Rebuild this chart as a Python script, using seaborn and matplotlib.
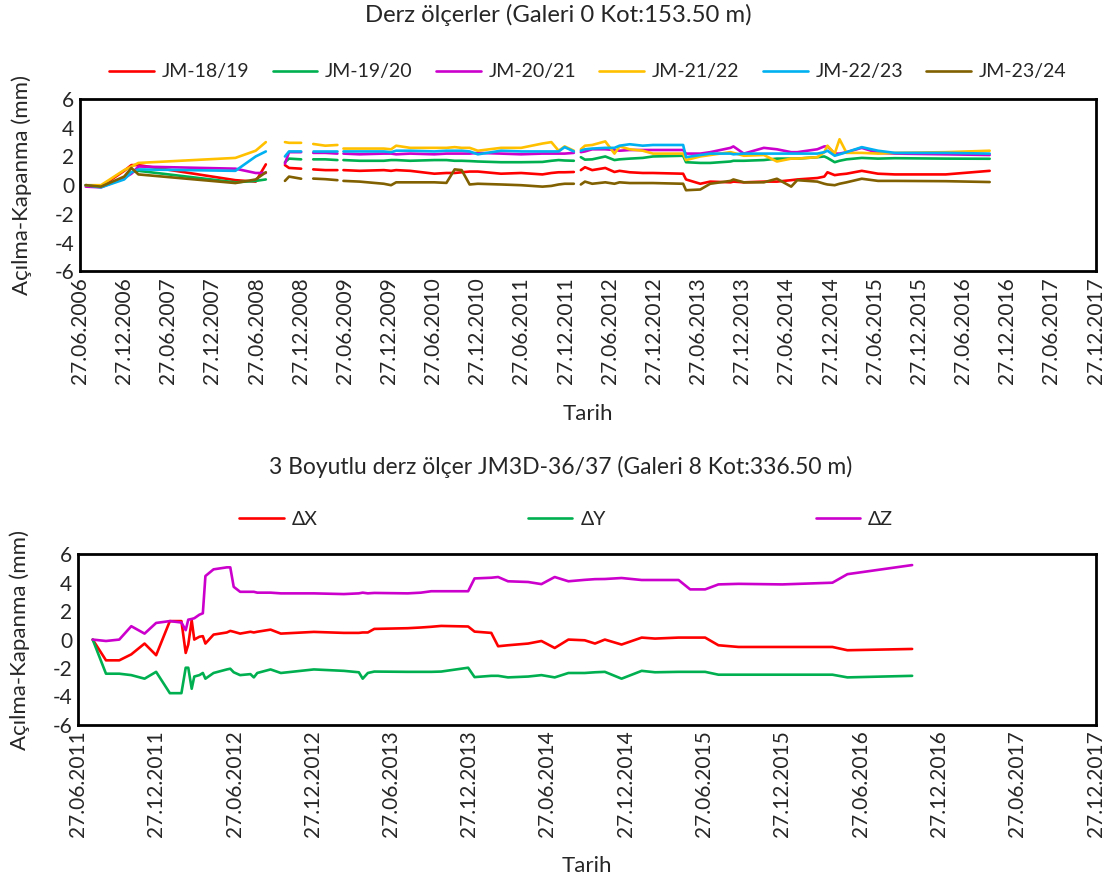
import numpy as np
import pandas as pd
import matplotlib
matplotlib.use("Agg")
import matplotlib.pyplot as plt
import seaborn as sns

# ---- top chart: joint meters, gallery 0 (nan rows = gaps in the record)
nan = np.nan
top_dates = ["2006-07-21", "2006-09-22", "2006-12-27", "2007-01-26", "2007-02-24", "2008-03-31",
             "2008-06-23", "2008-08-04", "2008-09-15", "2008-10-22", "2008-11-08", "2008-12-28",
             "2009-01-20", "2009-02-16", "2009-04-07", "2009-05-27", "2009-06-08", "2009-06-21",
             "2009-08-27", "2009-12-05", "2010-01-04", "2010-01-25", "2010-03-24", "2010-07-02",
             "2010-08-21", "2010-09-24", "2010-10-23", "2010-11-25", "2010-12-29", "2011-04-04",
             "2011-06-26", "2011-09-22", "2011-10-29", "2011-11-28", "2011-12-23", "2012-01-30",
             "2012-02-12", "2012-02-28", "2012-03-16", "2012-04-15", "2012-06-08", "2012-07-16",
             "2012-08-06", "2012-09-17", "2012-11-10", "2012-12-22", "2013-04-26", "2013-05-08",
             "2013-07-06", "2013-08-16", "2013-11-08", "2013-11-20", "2014-01-02", "2014-03-26",
             "2014-05-19", "2014-07-17", "2014-08-11", "2014-11-02", "2014-12-01", "2014-12-14",
             "2015-01-13", "2015-02-02", "2015-03-03", "2015-05-05", "2015-07-11", "2015-09-19",
             "2016-04-16", "2016-10-15"]

jm_18_19 = [0.0, -0.1, 1.0, 1.4, 1.4, 0.35, 0.25, 1.45, nan, 1.4, 1.2, 1.15, nan, 1.1, 1.05, 1.05,
            nan, 1.05, 1.0, 1.05, 1.0, 1.05, 1.0, 0.8, 0.85, 0.85, 0.9, 0.95, 0.95, 0.8, 0.85, 0.75,
            0.85, 0.9, 0.9, 0.92, nan, 1.05, 1.25, 1.05, 1.2, 0.92, 1.0, 0.9, 0.85, 0.85, 0.8, 0.4,
            0.1, 0.25, 0.2, 0.25, 0.2, 0.25, 0.25, 0.35, 0.4, 0.5, 0.6, 0.9, 0.7, 0.75, 0.8, 1.0,
            0.8, 0.75, 0.75, 1.0]
jm_19_20 = [0.0, -0.1, 0.5, 0.9, 1.0, 0.2, 0.3, 0.4, nan, 1.6, 1.85, 1.8, nan, 1.8, 1.8, 1.75,
            nan, 1.75, 1.7, 1.7, 1.75, 1.75, 1.7, 1.75, 1.75, 1.7, 1.7, 1.68, 1.65, 1.6, 1.6, 1.62,
            1.7, 1.75, 1.72, 1.7, nan, 1.95, 1.78, 1.8, 2.0, 1.75, 1.8, 1.85, 1.9, 2.0, 2.05, 1.6,
            1.55, 1.55, 1.65, 1.7, 1.7, 1.75, 1.85, 1.85, 1.85, 1.95, 2.0, 1.9, 1.6, 1.7, 1.8, 1.9,
            1.85, 1.88, 1.85, 1.84]
jm_20_21 = [-0.1, -0.15, 0.5, 0.8, 1.3, 1.15, 0.85, 0.85, nan, 1.5, 2.3, 2.3, nan, 2.25, 2.25, 2.2,
            nan, 2.2, 2.15, 2.2, 2.2, 2.15, 2.2, 2.15, 2.2, 2.2, 2.2, 2.2, 2.25, 2.2, 2.15, 2.2,
            2.2, 2.2, 2.2, 2.25, nan, 2.3, 2.35, 2.5, 2.5, 2.45, 2.4, 2.45, 2.45, 2.45, 2.45, 2.2,
            2.2, 2.3, 2.6, 2.7, 2.2, 2.6, 2.5, 2.3, 2.3, 2.5, 2.7, 2.7, 2.2, 2.2, 2.3, 2.6,
            2.25, 2.2, 2.15, 2.1]
jm_21_22 = [0.0, 0.0, 1.05, 1.3, 1.55, 1.9, 2.4, 3.0, nan, 3.0, 2.95, 2.95, nan, 2.87, 2.75, 2.8,
            nan, 2.55, 2.55, 2.55, 2.5, 2.75, 2.6, 2.6, 2.6, 2.65, 2.6, 2.6, 2.4, 2.6, 2.6, 2.9,
            3.0, 2.4, 2.7, 2.4, nan, 2.5, 2.75, 2.8, 3.05, 2.2, 2.7, 2.5, 2.4, 2.2, 2.2, 1.75,
            2.0, 2.1, 2.3, 2.25, 2.05, 2.1, 1.65, 1.85, 1.85, 1.95, 2.3, 2.75, 2.2, 3.2, 2.25, 2.25,
            2.2, 2.25, 2.3, 2.4]
jm_22_23 = [0.0, -0.15, 0.4, 0.9, 1.1, 1.0, 2.0, 2.35, nan, 2.0, 2.35, 2.35, nan, 2.35, 2.35, 2.35,
            nan, 2.35, 2.35, 2.35, 2.3, 2.4, 2.4, 2.35, 2.4, 2.4, 2.4, 2.35, 2.15, 2.4, 2.35, 2.35,
            2.35, 2.35, 2.65, 2.35, nan, 2.4, 2.5, 2.55, 2.6, 2.6, 2.75, 2.85, 2.75, 2.8, 2.8, 1.95,
            2.1, 2.2, 2.2, 2.15, 2.2, 2.2, 2.2, 2.2, 2.2, 2.2, 2.3, 2.4, 2.05, 2.15, 2.3, 2.65,
            2.4, 2.25, 2.25, 2.2]
jm_23_24 = [0.0, -0.1, 0.6, 1.2, 0.75, 0.15, 0.4, 0.9, nan, 0.3, 0.6, 0.45, nan, 0.46, 0.42, 0.35,
            nan, 0.3, 0.25, 0.1, 0.0, 0.2, 0.2, 0.2, 0.16, 1.1, 1.05, 0.05, 0.1, 0.05, 0.0, -0.1,
            -0.05, 0.05, 0.1, 0.1, nan, 0.05, 0.25, 0.1, 0.2, 0.1, 0.2, 0.15, 0.15, 0.15, 0.1, -0.35,
            -0.3, 0.1, 0.3, 0.4, 0.2, 0.2, 0.45, -0.1, 0.35, 0.25, 0.1, 0.05, 0.0, 0.1, 0.2, 0.45,
            0.3, 0.3, 0.28, 0.22]

top_names = ["JM-18/19", "JM-19/20", "JM-20/21", "JM-21/22", "JM-22/23", "JM-23/24"]
top_colors = ["#FF0000", "#00B050", "#CC00CC", "#FFC000", "#00B0F0", "#806000"]

# ---- bottom chart: 3D joint meter JM3D-36/37
delta_dates = ["2011-08-01", "2011-09-01", "2011-10-02", "2011-10-30", "2011-11-30", "2011-12-27",
               "2012-01-28", "2012-02-24", "2012-03-05", "2012-03-11", "2012-03-19", "2012-03-25",
               "2012-04-06", "2012-04-14", "2012-04-20", "2012-05-09", "2012-06-09", "2012-06-17",
               "2012-06-25", "2012-07-10", "2012-08-03", "2012-08-11", "2012-08-19", "2012-09-19",
               "2012-10-13", "2012-12-29", "2013-03-09", "2013-04-13", "2013-04-22", "2013-05-04",
               "2013-05-19", "2013-08-05", "2013-09-05", "2013-09-29", "2013-10-22", "2013-12-24",
               "2014-01-08", "2014-02-16", "2014-03-04", "2014-03-27", "2014-05-13", "2014-06-13",
               "2014-07-14", "2014-08-15", "2014-09-22", "2014-10-16", "2014-11-08", "2014-12-17",
               "2015-02-02", "2015-03-05", "2015-04-29", "2015-05-26", "2015-06-30", "2015-07-31",
               "2015-09-16", "2015-12-27", "2016-04-22", "2016-05-27", "2016-10-25"]
delta_x = [0.0, -1.46, -1.46, -1.04, -0.28, -1.1, 1.3, 1.3, -0.94, -0.35, 1.36, 0.0, 0.2, 0.24,
           -0.28, 0.35, 0.5, 0.61, 0.55, 0.42, 0.55, 0.5, 0.55, 0.7, 0.42, 0.54, 0.47, 0.47, 0.5,
           0.5, 0.75, 0.8, 0.85, 0.9, 0.96, 0.92, 0.56, 0.47, -0.47, -0.4, -0.28, -0.1, -0.59, 0.0,
           -0.05, -0.28, 0.0, -0.35, 0.14, 0.07, 0.14, 0.14, 0.14, -0.4, -0.52, -0.52, -0.52, -0.75,
           -0.66]
delta_y = [0.0, -2.4, -2.4, -2.5, -2.75, -2.27, -3.77, -3.77, -1.98, -1.98, -3.46, -2.6, -2.5,
           -2.35, -2.75, -2.35, -2.1, -2.05, -2.3, -2.5, -2.43, -2.66, -2.35, -2.1, -2.35, -2.1,
           -2.2, -2.3, -2.75, -2.35, -2.25, -2.27, -2.27, -2.27, -2.25, -1.98, -2.64, -2.55, -2.55,
           -2.66, -2.6, -2.5, -2.66, -2.35, -2.35, -2.3, -2.27, -2.75, -2.2, -2.3, -2.27, -2.27,
           -2.27, -2.47, -2.47, -2.47, -2.47, -2.66, -2.55]
delta_z = [0.0, -0.1, 0.0, 0.94, 0.42, 1.17, 1.3, 1.2, 0.66, 1.4, 1.45, 1.5, 1.75, 1.85, 4.47,
           4.94, 5.08, 5.08, 3.71, 3.36, 3.36, 3.36, 3.3, 3.3, 3.25, 3.25, 3.2, 3.25, 3.3, 3.25,
           3.28, 3.25, 3.3, 3.4, 3.4, 3.4, 4.3, 4.35, 4.4, 4.1, 4.05, 3.9, 4.4, 4.1, 4.2, 4.25,
           4.26, 4.33, 4.19, 4.19, 4.19, 3.53, 3.53, 3.88, 3.92, 3.88, 4.0, 4.6, 5.24]

delta_names = ["ΔX", "ΔY", "ΔZ"]
delta_colors = ["#FF0000", "#00B050", "#CC00CC"]

# ---- long-form tables
top = pd.DataFrame({"Tarih": pd.to_datetime(top_dates)})
for name, vals in zip(top_names, [jm_18_19, jm_19_20, jm_20_21, jm_21_22, jm_22_23, jm_23_24]):
    top[name] = vals
top["seg"] = top[top_names].isna().all(axis=1).cumsum()
top_long = top.melt(id_vars=["Tarih", "seg"], var_name="seri", value_name="deger").dropna()

bot = pd.DataFrame({"Tarih": pd.to_datetime(delta_dates), "ΔX": delta_x, "ΔY": delta_y, "ΔZ": delta_z})
bot_long = bot.melt(id_vars="Tarih", var_name="seri", value_name="deger")

sns.set_theme(style="white")
plt.rcParams["font.family"] = ["Lato", "DejaVu Sans"]
txt = "#262626"

fig = plt.figure(figsize=(11.1, 8.84), dpi=100)
ax1 = fig.add_axes([0.072, 0.693, 0.915, 0.195])
ax2 = fig.add_axes([0.070, 0.180, 0.917, 0.193])

sns.lineplot(data=top_long, x="Tarih", y="deger", hue="seri", units="seg", estimator=None,
             hue_order=top_names, palette=dict(zip(top_names, top_colors)), linewidth=1.9, ax=ax1)
sns.lineplot(data=bot_long, x="Tarih", y="deger", hue="seri", estimator=None,
             hue_order=delta_names, palette=dict(zip(delta_names, delta_colors)), linewidth=1.9, ax=ax2)


def style_axis(ax, start_year):
    ticks = []
    for yr in range(start_year, 2018):
        ticks += [pd.Timestamp(f"{yr}-06-27"), pd.Timestamp(f"{yr}-12-27")]
    ax.set_xlim(ticks[0], ticks[-1])
    ax.set_xticks(ticks)
    ax.set_xticklabels([t.strftime("%d.%m.%Y") for t in ticks], rotation=90, fontsize=15, color=txt)
    ax.set_ylim(-6, 6)
    ax.set_yticks(range(-6, 7, 2))
    ax.set_yticklabels([str(v) for v in range(-6, 7, 2)], fontsize=15, color=txt)
    ax.tick_params(direction="in", length=6, width=1.5, color="black", pad=4)
    for sp in ax.spines.values():
        sp.set_color("black")
        sp.set_linewidth(2)
    ax.set_xlabel("Tarih", fontsize=16, color=txt)
    ax.xaxis.set_label_coords(0.5, -0.77)
    ax.set_ylabel("Açılma-Kapanma (mm)", fontsize=16, color=txt)
    ax.yaxis.set_label_coords(-0.047, 0.5)


style_axis(ax1, 2006)
style_axis(ax2, 2011)

sns.move_legend(ax1, "center", bbox_to_anchor=(0.5, 1.157), ncol=6, frameon=False, title=None,
                fontsize=14, handlelength=2.3, handletextpad=0.4, columnspacing=1.2)
sns.move_legend(ax2, "center", bbox_to_anchor=(0.48, 1.205), ncol=3, frameon=False, title=None,
                fontsize=14, handlelength=2.3, handletextpad=0.4, columnspacing=10.8)
for ax in (ax1, ax2):
    for t in ax.get_legend().get_texts():
        t.set_color(txt)

fig.text(0.503, 0.983, "Derz ölçerler (Galeri 0 Kot:153.50 m)", ha="center", va="center",
         fontsize=17.2, color=txt)
fig.text(0.505, 0.472, "3 Boyutlu derz ölçer JM3D-36/37 (Galeri 8 Kot:336.50 m)", ha="center",
         va="center", fontsize=16.5, color=txt)

fig.savefig("out.png", dpi=100, facecolor="white")
